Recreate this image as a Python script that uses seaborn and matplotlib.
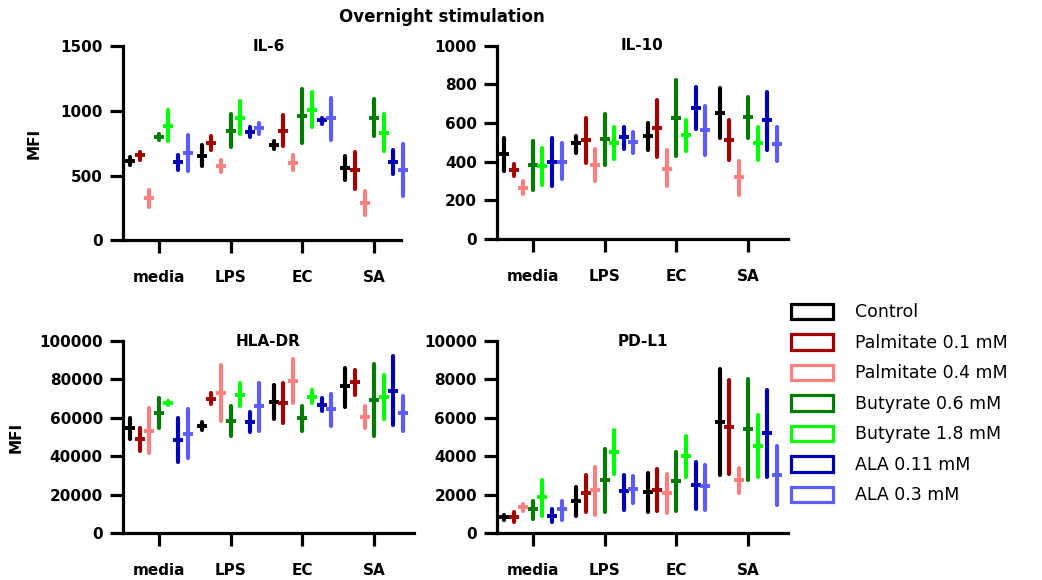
import numpy as np
import pandas as pd
import matplotlib
matplotlib.use("Agg")
import matplotlib.pyplot as plt
from matplotlib.patches import Patch
import seaborn as sns

stims = ["media", "LPS", "EC", "SA"]
treatments = ["Control", "Palmitate 0.1 mM", "Palmitate 0.4 mM", "Butyrate 0.6 mM",
              "Butyrate 1.8 mM", "ALA 0.11 mM", "ALA 0.3 mM"]
colors = ["#000000", "#A00000", "#FF8080", "#007A00", "#00FF00", "#0000B4", "#5C5CFF"]

# one row per stimulation, values in treatment order
il6_mean = [[612, 656, 325, 798, 883, 604, 676],
            [651, 751, 573, 844, 948, 837, 870],
            [736, 844, 596, 960, 1010, 927, 945],
            [560, 540, 287, 945, 831, 607, 541]]
il6_lo = [[581, 622, 256, 772, 767, 540, 534],
          [571, 695, 527, 720, 818, 798, 824],
          [705, 726, 540, 749, 873, 901, 775],
          [462, 392, 191, 803, 689, 509, 343]]
il6_hi = [[643, 684, 385, 821, 1004, 656, 811],
          [733, 803, 617, 973, 1074, 875, 909],
          [767, 966, 656, 1167, 1144, 948, 1103],
          [648, 679, 377, 1090, 973, 695, 742]]

il10_mean = [[438, 359, 264, 384, 376, 397, 400],
             [495, 510, 381, 516, 495, 526, 500],
             [531, 572, 364, 628, 536, 676, 562],
             [650, 510, 319, 629, 495, 614, 491]]
il10_lo = [[350, 324, 233, 255, 278, 272, 309],
           [445, 393, 298, 381, 414, 466, 443],
           [459, 422, 272, 428, 453, 569, 433],
           [522, 407, 226, 522, 407, 459, 402]]
il10_hi = [[522, 388, 298, 509, 471, 522, 497],
           [531, 626, 467, 647, 579, 578, 553],
           [600, 721, 462, 824, 617, 786, 688],
           [781, 617, 405, 734, 579, 760, 579]]

hla_mean = [[54500, 49100, 53300, 62600, 67800, 48400, 51600],
            [55900, 69900, 73000, 58500, 72000, 58000, 66300],
            [68300, 67600, 79200, 60000, 70900, 66800, 64400],
            [76500, 78900, 60600, 69500, 70900, 74200, 62600]]
hla_lo = [[48800, 42900, 41900, 54800, 66600, 37200, 38900],
          [53600, 67000, 58500, 50500, 66100, 52800, 53300],
          [59300, 57400, 67800, 53300, 67500, 63700, 55700],
          [65700, 72000, 54800, 50500, 59300, 56200, 53300]]
hla_hi = [[59700, 54500, 64900, 70100, 68900, 59700, 64400],
          [57600, 72700, 87400, 66100, 77900, 62800, 78400],
          [77000, 77900, 90500, 66400, 74700, 70100, 72300],
          [86200, 85100, 66400, 87900, 82200, 92000, 71600]]

pdl1_mean = [[815, 815, 1334, 1265, 1854, 901, 1248],
             [1646, 2080, 2218, 2738, 4246, 2166, 2288],
             [2114, 2253, 2080, 2686, 4021, 2478, 2426],
             [5806, 5546, 2738, 5407, 4558, 5199, 2998]]
pdl1_lo = [[676, 555, 1144, 745, 867, 555, 693],
           [867, 1074, 953, 1074, 3085, 1213, 1560],
           [1074, 1126, 1040, 1126, 2894, 1265, 1213],
           [2998, 3067, 2080, 2738, 2911, 2911, 1438]]
pdl1_hi = [[953, 1074, 1508, 1681, 2773, 1265, 1681],
           [2392, 3033, 3414, 4385, 5372, 3033, 2981],
           [3119, 3327, 3067, 4211, 5060, 3691, 3553],
           [8526, 7972, 3379, 8006, 6152, 7452, 4540]]


def long_table(mean, lo, hi):
    rows = []
    for i, s in enumerate(stims):
        for j, t in enumerate(treatments):
            for v in (lo[i][j], mean[i][j], hi[i][j]):
                rows.append({"stim": s, "treatment": t, "value": v})
    return pd.DataFrame(rows)


sns.set_style("ticks")
plt.rcParams["font.family"] = ["DejaVu Sans"]
plt.rcParams.update({"text.color": "black", "axes.labelcolor": "black",
                     "axes.edgecolor": "black", "xtick.color": "black",
                     "ytick.color": "black"})

fig = plt.figure(figsize=(10.42, 5.8), dpi=100)

panels = [
    ("IL-6", il6_mean, il6_lo, il6_hi, [0.118, 0.586, 0.279, 0.334], 1500, 500, True),
    ("IL-10", il10_mean, il10_lo, il10_hi, [0.477, 0.588, 0.279, 0.333], 1000, 200, False),
    ("HLA-DR", hla_mean, hla_lo, hla_hi, [0.118, 0.081, 0.279, 0.331], 100000, 20000, True),
    ("PD-L1", pdl1_mean, pdl1_lo, pdl1_hi, [0.477, 0.081, 0.279, 0.331], 10000, 2000, False),
]

for name, m, lo, hi, rect, ymax, step, left in panels:
    ax = fig.add_axes(rect)
    df = long_table(m, lo, hi)
    # median of (lo, mean, hi) gives the mean tick, the 100% interval gives the bar
    sns.pointplot(data=df, x="stim", y="value", hue="treatment", order=stims,
                  hue_order=treatments, palette=colors, estimator="median",
                  errorbar=("pi", 100), dodge=0.8, linestyle="none", marker="_",
                  markersize=7, markeredgewidth=2.8, err_kws={"linewidth": 3.0},
                  legend=False, ax=ax)
    ax.set_xlim(-0.5, 3.55)
    ax.set_ylim(0, ymax)
    ax.set_yticks(np.arange(0, ymax + 1, step))
    sns.despine(ax=ax)
    for sp in ("left", "bottom"):
        ax.spines[sp].set_linewidth(2.3)
    if name == "IL-6":
        ax.spines["bottom"].set_bounds(-0.5, 3.37)
    ax.tick_params(axis="both", length=9.5, width=2.3, labelsize=11)
    ax.tick_params(axis="x", pad=12)
    ax.tick_params(axis="y", pad=5)
    for lab in ax.get_xticklabels() + ax.get_yticklabels():
        lab.set_fontweight("bold")
    ax.set_xlabel("")
    if left:
        ax.set_ylabel("MFI", fontsize=11, fontweight="bold")
        ax.yaxis.set_label_coords(-0.28 if name == "IL-6" else -0.34, 0.5)
    else:
        ax.set_ylabel("")
    ax.text(0.5, 1.0, name, transform=ax.transAxes, ha="center", va="center",
            fontsize=11, fontweight="bold")

fig.text(0.424, 0.970, "Overnight stimulation", ha="center", va="center",
         fontsize=12, fontweight="bold")

handles = [Patch(facecolor="white", edgecolor=c, linewidth=2.3) for c in colors]
fig.legend(handles, treatments, loc="upper left", bbox_to_anchor=(0.759, 0.477),
           frameon=False, fontsize=12.5, handlelength=2.4, handleheight=1.0,
           labelspacing=0.72, handletextpad=1.3, borderpad=0, borderaxespad=0)

fig.savefig("out.png", dpi=100)
